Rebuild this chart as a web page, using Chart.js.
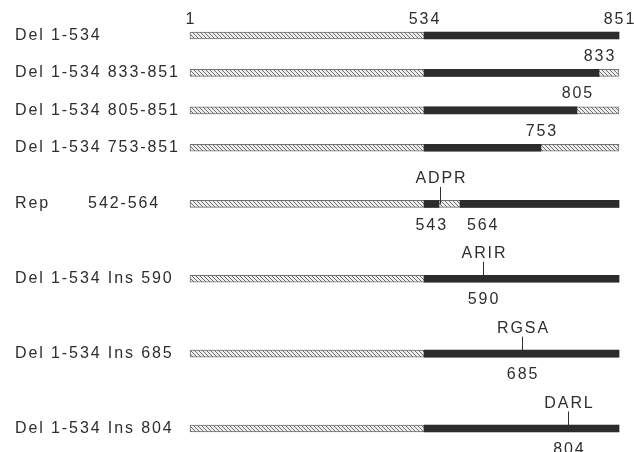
<!DOCTYPE html>
<html>
<head>
<meta charset="utf-8">
<script src="https://cdn.jsdelivr.net/npm/chart.js@4/dist/chart.umd.min.js"></script>
<style>
  html, body { margin: 0; padding: 0; background: #ffffff; }
  #wrap { width: 634px; height: 452px; position: relative; }
</style>
</head>
<body>
<div id="wrap"><canvas id="c"></canvas></div>
<script>
// ---------------- data (residue numbers) ----------------
const constructs = ['Del 1-534', 'Del 1-534 833-851', 'Del 1-534 805-851', 'Del 1-534 753-851',
                    'Rep      542-564', 'Del 1-534 Ins 590', 'Del 1-534 Ins 685', 'Del 1-534 Ins 804'];
const fullStart  = [1, 1, 1, 1, 1, 1, 1, 1];
const fullEnd    = [851, 851, 851, 851, 851, 851, 851, 851];
const keptStart  = [534, 534, 534, 534, 534, 534, 534, 534];
const keptEnd    = [851, 833, 805, 753, 542, 851, 851, 851];
const keptStart2 = [null, null, null, null, 564, null, null, null];
const keptEnd2   = [null, null, null, null, 851, null, null, null];
const insertSite = [null, null, null, null, 543, 590, 685, 804];
const insertTag  = ['', '', '', '', 'ADPR', 'ARIR', 'RGSA', 'DARL'];
const aboveMarks = [[1, 534, 851], [833], [805], [753], [], [], [], []];
const belowMarks = [[], [], [], [], [543, 564], [590], [685], [804]];

// ---------------- layout helpers ----------------
const rowSlot = [0, 2, 4, 6, 9, 13, 17, 21];
const slotCount = 22;
const TXT = '#2e2e2e';
const FONT_FAMILY = "'Liberation Sans', Arial, Helvetica, sans-serif";
const FONT_SIZE = 16;
const LETTER = '1.9px';

// The schematic is not drawn to scale: a piecewise-linear residue scale.
const schematicBreaks = [[1, 0], [534, 0.5455], [542, 0.5804], [564, 0.6294], [590, 0.683],
  [685, 0.774], [753, 0.818], [804, 0.882], [805, 0.902], [833, 0.9534], [851, 1]];

class SchematicScale extends Chart.LinearScale {
  static id = 'schematic';
  static defaults = Chart.LinearScale.defaults;
  _toDecimal(v) {
    const b = schematicBreaks;
    if (v <= b[0][0]) return b[0][1];
    for (let i = 1; i < b.length; i++) {
      if (v <= b[i][0]) {
        const t = (v - b[i - 1][0]) / (b[i][0] - b[i - 1][0]);
        return b[i - 1][1] + t * (b[i][1] - b[i - 1][1]);
      }
    }
    return b[b.length - 1][1];
  }
  getPixelForValue(value) {
    if (value === null || value === undefined || isNaN(value)) return NaN;
    return this.getPixelForDecimal(this._toDecimal(value));
  }
  getValueForPixel(pixel) {
    const d = this.getDecimalForPixel(pixel);
    const b = schematicBreaks;
    for (let i = 1; i < b.length; i++) {
      if (d <= b[i][1]) {
        const t = (d - b[i - 1][1]) / (b[i][1] - b[i - 1][1]);
        return b[i - 1][0] + t * (b[i][0] - b[i - 1][0]);
      }
    }
    return b[b.length - 1][0];
  }
}
Chart.register(SchematicScale);

// hatch pattern for deleted / replaced stretches
function makeHatch() {
  const p = document.createElement('canvas');
  p.width = 4; p.height = 4;
  const g = p.getContext('2d');
  g.fillStyle = '#eeeeee';
  g.fillRect(0, 0, 4, 4);
  g.strokeStyle = '#6e6e6e';
  g.lineWidth = 1;
  g.beginPath();
  g.moveTo(0, 0); g.lineTo(4, 4);
  g.moveTo(-2, 2); g.lineTo(2, 6);
  g.moveTo(2, -2); g.lineTo(6, 2);
  g.stroke();
  return document.getElementById('c').getContext('2d').createPattern(p, 'repeat');
}

const slotLabels = new Array(slotCount).fill('');
rowSlot.forEach((s, i) => { slotLabels[s] = constructs[i]; });
function toSlots(a, b) {
  const out = new Array(slotCount).fill(null);
  rowSlot.forEach((s, i) => {
    if (a[i] !== null && b[i] !== null) out[s] = [a[i], b[i]];
  });
  return out;
}

const annotate = {
  id: 'annotate',
  beforeDraw(chart) { chart.ctx.letterSpacing = LETTER; },
  afterDraw(chart) {
    const ctx = chart.ctx;
    const xs = chart.scales.x, ys = chart.scales.y;
    ctx.save();
    ctx.letterSpacing = LETTER;
    ctx.fillStyle = TXT;
    ctx.strokeStyle = TXT;
    ctx.font = FONT_SIZE + 'px ' + FONT_FAMILY;
    ctx.textBaseline = 'alphabetic';
    rowSlot.forEach((s, i) => {
      const y = ys.getPixelForValue(s);
      aboveMarks[i].forEach(v => {
        ctx.textAlign = 'center';
        ctx.fillText(String(v), xs.getPixelForValue(v) + 1, y - 12);
      });
      belowMarks[i].forEach((v, k) => {
        const x = xs.getPixelForValue(v);
        if (belowMarks[i].length > 1 && k > 0) {
          ctx.textAlign = 'left';
          ctx.fillText(String(v), x + 7, y + 26);
        } else if (belowMarks[i].length > 1) {
          ctx.textAlign = 'right';
          ctx.fillText(String(v), x + 8, y + 26);
        } else {
          ctx.textAlign = 'center';
          ctx.fillText(String(v), x + 1, y + 25);
        }
      });
      if (insertSite[i] !== null) {
        const x = Math.round(xs.getPixelForValue(insertSite[i])) + 0.5;
        ctx.lineWidth = 1;
        ctx.beginPath();
        ctx.moveTo(x, y);
        ctx.lineTo(x, y - 17);
        ctx.stroke();
        ctx.textAlign = 'center';
        ctx.fillText(insertTag[i], x + 1, y - 21);
      }
    });
    ctx.restore();
  }
};

new Chart(document.getElementById('c'), {
  type: 'bar',
  data: {
    labels: slotLabels,
    datasets: [
      { label: 'kept', data: toSlots(keptStart, keptEnd), backgroundColor: '#2c2c2c',
        borderWidth: 0, barThickness: 7, grouped: false, order: 1, clip: false },
      { label: 'kept2', data: toSlots(keptStart2, keptEnd2), backgroundColor: '#2c2c2c',
        borderWidth: 0, barThickness: 7, grouped: false, order: 1, clip: false },
      { label: 'deleted', data: toSlots(fullStart, fullEnd), backgroundColor: makeHatch(),
        borderColor: '#707070', borderWidth: 1, borderSkipped: false, barThickness: 7,
        grouped: false, order: 2, clip: false }
    ]
  },
  options: {
    indexAxis: 'y',
    responsive: true,
    maintainAspectRatio: false,
    animation: false,
    events: [],
    layout: { padding: { left: 15, right: 15, top: 35.5, bottom: 23.5 } },
    plugins: { legend: { display: false }, tooltip: { enabled: false } },
    scales: {
      x: { type: 'schematic', min: 1, max: 851, display: false },
      y: {
        type: 'category',
        offset: false,
        grid: { display: false },
        border: { display: false },
        afterFit(scale) { scale.width = 175; },
        ticks: {
          autoSkip: false,
          crossAlign: 'far',
          padding: 0,
          color: TXT,
          font: { family: FONT_FAMILY, size: FONT_SIZE }
        }
      }
    }
  },
  plugins: [annotate]
});
</script>
</body>
</html>
